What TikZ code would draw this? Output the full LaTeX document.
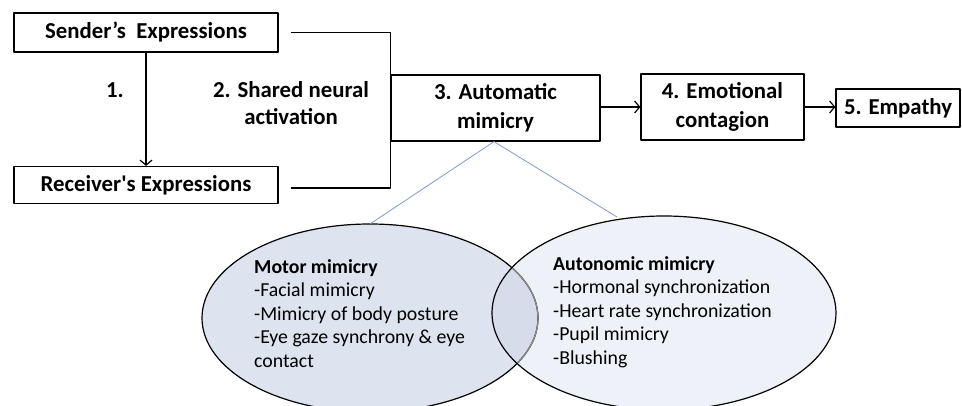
\documentclass[tikz,border=0pt]{standalone}
\usepackage{fontspec}
\setmainfont{Carlito}
\newfontfamily\rawfont{Carlito}
\usetikzlibrary{arrows.meta}
\definecolor{motorfill}{RGB}{221,227,239}
\definecolor{autofill}{RGB}{238,241,248}
\definecolor{bothfill}{RGB}{214,220,233}
\definecolor{linkblue}{RGB}{124,155,207}
\begin{document}
\begin{tikzpicture}[x=1pt,y=1pt,line join=bevel]
  \tikzstyle{box}=[draw,line width=1.2pt,inner sep=0pt,align=center,font=\fontsize{22.8}{29}\selectfont\bfseries]
  \tikzstyle{flow}=[->,line width=1.2pt,>={Straight Barb[length=5pt,width=12pt,line width=1.2pt]}]
  \tikzstyle{list}=[anchor=north west,inner sep=0pt,align=left,font=\fontsize{19.8}{23.6}\selectfont]
  \clip (0,0) rectangle (962,405);
  \useasboundingbox (0,0) rectangle (962,405);

  % the two overlapping mimicry ellipses
  \fill[motorfill] (370,87) ellipse [x radius=168,y radius=94];
  \fill[autofill] (664,92) ellipse [x radius=172,y radius=97];
  \begin{scope}
    \clip (370,87) ellipse [x radius=168,y radius=94];
    \fill[bothfill] (664,92) ellipse [x radius=172,y radius=97];
  \end{scope}
  \draw[line width=1.2pt] (370,87) ellipse [x radius=168,y radius=94];
  \begin{scope}
    \clip (664,92) ellipse [x radius=172,y radius=97];
    \draw[line width=1.2pt,black!45] (370,87) ellipse [x radius=168,y radius=94];
  \end{scope}
  \draw[line width=1.2pt] (664,92) ellipse [x radius=172,y radius=97];
  \coordinate (M_1) at (370,181);
  \coordinate (M_2) at (617,188);

  \node[box,minimum width=264,minimum height=39] (N_s) at (146,372.5) {Sender’s\ \ Expressions};
  \node[box,minimum width=264,minimum height=37] (N_r) at (146,220) {Receiver{\rawfont\bfseries '}s Expressions};
  \node[box,minimum width=209,minimum height=66] (N_3) at (495.5,297) {3. Automatic\\mimicry};
  \node[box,minimum width=163,minimum height=66] (N_4) at (722.5,298) {4. Emotional\\contagion};
  \node[box,minimum width=124,minimum height=38] (N_5) at (898,297) {5. Empathy};

  \node[font=\fontsize{22.8}{29}\selectfont\bfseries] (L_1) at (115,315) {1.};
  \node[align=center,font=\fontsize{22.8}{27}\selectfont\bfseries] (L_2) at (291,302) {2. Shared neural\\activation};

  \draw[flow] (N_s) -- (N_r);
  \draw[line width=1.2pt] ([xshift=12pt]N_s.east) -| (N_3.north west)
        -- (N_3.south west) |- ([xshift=12pt,yshift=-3pt]N_r.east);
  \draw[flow] (N_3.east |- 0,298) -- (N_4.west |- 0,298);
  \draw[flow] (N_4.east |- 0,298) -- (N_5.west |- 0,298);

  \draw[linkblue,line width=0.8pt] (M_1) -- (N_3.south -| 494,0) -- (M_2);

  \node[list] (T_1) at (254,146) {\textbf{Motor mimicry}\\-Facial mimicry\\-Mimicry of body posture\\-Eye gaze synchrony \& eye\\contact};
  \node[list] (T_2) at (553,149) {\textbf{Autonomic mimicry}\\-Hormonal synchronization\\-Heart rate synchronization\\-Pupil mimicry\\-Blushing};
\end{tikzpicture}
\end{document}
